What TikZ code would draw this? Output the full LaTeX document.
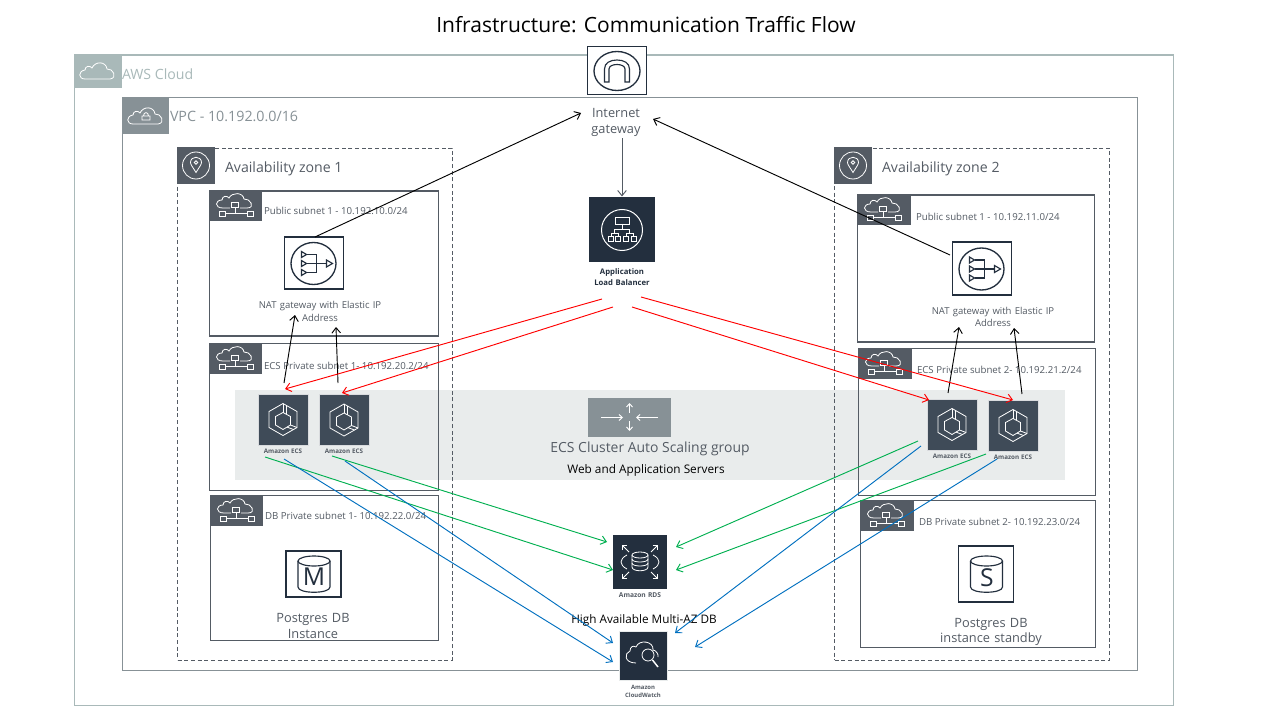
\documentclass[tikz,border=0pt]{standalone}
\usepackage{fontspec}
\setmainfont{Open Sans}
\usetikzlibrary{arrows.meta}
\definecolor{navy}{HTML}{232F3E}
\definecolor{slate}{HTML}{545B64}
\definecolor{midgray}{HTML}{879196}
\definecolor{cloudgray}{HTML}{A9B9B9}
\definecolor{ecsfill}{HTML}{3F4B58}
\definecolor{bandfill}{HTML}{E9ECEC}
\definecolor{arrred}{HTML}{FF0000}
\definecolor{arrgreen}{HTML}{00B050}
\definecolor{arrblue}{HTML}{0070C0}
\newcommand{\fs}[1]{\fontsize{#1}{#1}\selectfont}
\tikzset{
 x=0.75pt,y=-0.75pt,
 every node/.style={inner sep=0pt,outer sep=0pt},
 frame/.style={draw=slate,line width=0.8pt,rectangle,anchor=north west},
 zone/.style={draw=slate,dashed,dash pattern=on 3pt off 2pt,line width=0.7pt,rectangle,anchor=north west},
 head/.style={fill=slate,rectangle,anchor=north west},
 iconbox/.style={draw=navy,fill=white,line width=0.8pt,rectangle},
 darkbox/.style={fill=navy,rectangle},
 ecsbox/.style={fill=ecsfill,draw=ecsfill!20!white,line width=0.3pt,rectangle,minimum width=37.5pt,minimum height=38pt},
 subtxt/.style={text=slate,anchor=west,font=\fs{7.25}},
 big/.style={text=slate,align=center,font=\fs{9.6},text width=120pt},
 mini/.style={text=slate,align=center,font=\bfseries\fs{4.7},text width=60pt},
 wline/.style={draw=white,line width=0.6pt},
 nline/.style={draw=navy,line width=0.85pt},
 flow/.style={line width=0.7pt,-{Straight Barb[length=4pt,width=6.5pt]}},
 blk/.style={flow,draw=black},
 rd/.style={flow,draw=arrred},
 gn/.style={flow,draw=arrgreen},
 bl/.style={flow,draw=arrblue},
 pics/cloudout/.style={code={
  \draw[wline] (-13,8) .. controls (-20,8) and (-20,0) .. (-13,-1) .. controls (-13,-5) and (-8,-6) .. (-6,-3) .. controls (-3,-10) and (8,-10) .. (9,-2) .. controls (15,-3) and (20,7) .. (12,8) -- cycle;
 }},
 pics/subneticon/.style={code={
  \draw[wline] (-5,3) -- (-12,3) .. controls (-21,3) and (-20,-5) .. (-13,-5) .. controls (-13,-9) and (-8,-10) .. (-6,-7) .. controls (-3,-13) and (8,-13) .. (9,-6) .. controls (15,-7) and (21,3) .. (12,3) -- (5,3);
  \draw[wline] (-3.5,-3) rectangle (3.5,2);
  \draw[wline] (0,2) -- (0,8.5);
  \draw[wline] (-10,8.5) -- (12,8.5);
  \draw[wline] (-16,6) rectangle (-10,11);
  \draw[wline] (12,6) rectangle (18,11);
 }},
 pics/naticon/.style={code={
  \draw[nline,line width=1pt] (0,0) ellipse [x radius=22.5,y radius=21];
  \foreach \y in {-9,0,9}{
   \draw[nline] (-12,\y-3) -- (-7,\y) -- (-12,\y+3) -- cycle;
   \draw[nline] (-7,\y) -- (3,\y);
  }
  \draw[nline] (3,-9) -- (3,9);
  \draw[nline] (3,0) -- (13,0);
  \draw[nline] (13,-3.5) -- (19,0) -- (13,3.5) -- cycle;
 }},
 pics/ecsicon/.style={code={
  \draw[wline] (0,-16) -- (14,-8) -- (14,8) -- (0,16) -- (-14,8) -- (-14,-8) -- cycle;
  \draw[wline] (0,-7) -- (7.5,-3) -- (7.5,5.5) -- (0,10) -- (-7.5,5.5) -- (-7.5,-3) -- cycle;
  \draw[wline] (0,-16) -- (0,-7) (3,-14.3) -- (3,-5.4);
  \draw[wline] (7.5,5.5) -- (14,8) (4,7.6) -- (10.5,10);
 }},
 pics/cyl/.style={code={
  \draw[nline] (-16,-13) -- (-16,13) .. controls (-16,20) and (16,20) .. (16,13) -- (16,-13);
  \draw[nline] (0,-13) ellipse [x radius=16,y radius=5];
 }},
 pics/pinicon/.style={code={
  \draw[wline] (0,0) circle (13.5);
  \draw[wline] (0,7) .. controls (-3,2) and (-5.5,-1) .. (-5.5,-3) .. controls (-5.5,-10) and (5.5,-10) .. (5.5,-3) .. controls (5.5,-1) and (3,2) .. (0,7) -- cycle;
  \draw[wline] (0,-3) circle (1.7);
 }},
}
\begin{document}
\begin{tikzpicture}
\useasboundingbox (0,0) rectangle (1280,720);
\fill[white] (0,0) rectangle (1280,720);
% band
\fill[bandfill] (235,390) rectangle (1065,480);
% containers
\node[frame,draw=cloudgray,minimum width=824pt,minimum height=488pt] (aws) at (74.5,55) {};
\node[head,fill=cloudgray,minimum width=36pt,minimum height=25pt] (awsh) at (74,55) {};
\pic at (98,71) {cloudout};
\node[text=cloudgray,anchor=west,font=\fs{10.6}] (awst) at (122,74) {AWS Cloud};
\node[frame,draw=midgray,minimum width=761.5pt,minimum height=429.5pt] (vpc) at (122.5,97.5) {};
\node[head,fill=midgray,minimum width=35pt,minimum height=27.5pt] (vpch) at (122,97) {};
\pic at (146,116) {cloudout};
\draw[wline] (142,116) rectangle (150,120) (143.5,116) .. controls (143.5,111.5) and (148.5,111.5) .. (148.5,116);
\node[text=midgray,anchor=west,font=\fs{10.7}] (vpct) at (170,116.5) {VPC - 10.192.0.0/16};
% AZ 1
\node[zone,minimum width=206pt,minimum height=384pt] (az1) at (177.5,148) {};
\node[head,minimum width=28.5pt,minimum height=27.5pt] (az1h) at (177,147) {};
\pic at (196,165.5) {pinicon};
\node[text=slate,anchor=west,font=\fs{10.6}] (az1t) at (225,168.5) {Availability zone 1};
\node[frame,minimum width=171.75pt,minimum height=108.75pt] (pub1) at (209.5,191) {};
\node[head,minimum width=39.75pt,minimum height=22.5pt] (pub1h) at (209,191) {};
\pic at (235,205) {subneticon};
\node[subtxt] (pub1t) at (264,211) {Public subnet 1 - 10.192.10.0/24};
\node[frame,minimum width=171.75pt,minimum height=110pt] (ecs1s) at (209.5,343.5) {};
\node[head,minimum width=39.75pt,minimum height=23pt] (ecs1h) at (209,343) {};
\pic at (235,358) {subneticon};
\node[subtxt] (ecs1t) at (264,365.5) {ECS Private subnet 1- 10.192.20.2/24};
\node[frame,minimum width=171pt,minimum height=109pt] (db1s) at (210.5,495.5) {};
\node[head,minimum width=39.75pt,minimum height=23pt] (db1h) at (210,495) {};
\pic at (236,510) {subneticon};
\node[subtxt] (db1t) at (265,516) {DB Private subnet 1- 10.192.22.0/24};
% AZ 2
\node[zone,minimum width=206.25pt,minimum height=384pt] (az2) at (834.5,148) {};
\node[head,minimum width=28.5pt,minimum height=27.5pt] (az2h) at (834,147) {};
\pic at (853,165.5) {pinicon};
\node[text=slate,anchor=west,font=\fs{10.6}] (az2t) at (882,168.5) {Availability zone 2};
\node[frame,minimum width=177.75pt,minimum height=110.25pt] (pub2) at (857.5,195) {};
\node[head,minimum width=40.5pt,minimum height=22.5pt] (pub2h) at (857,195) {};
\pic at (883,209) {subneticon};
\node[subtxt] (pub2t) at (916,216.5) {Public subnet 1 - 10.192.11.0/24};
\node[frame,minimum width=177.75pt,minimum height=110.25pt] (ecs2s) at (858.5,348.5) {};
\node[head,minimum width=40.5pt,minimum height=23pt] (ecs2h) at (858,348) {};
\pic at (884,363) {subneticon};
\node[subtxt] (ecs2t) at (917,370) {ECS Private subnet 2- 10.192.21.2/24};
\node[frame,minimum width=176.25pt,minimum height=110pt] (db2s) at (860.5,500.5) {};
\node[head,minimum width=40.5pt,minimum height=23pt] (db2h) at (860,500) {};
\pic at (886,515) {subneticon};
\node[subtxt] (db2t) at (919,522) {DB Private subnet 2- 10.192.23.0/24};
% IGW
\node[iconbox,minimum width=44.5pt,minimum height=36.5pt] (igw) at (617,70.5) {};
\draw[nline,line width=1pt] (617,71) ellipse [x radius=23,y radius=19.5];
\draw[nline] (604.5,82) -- (604.5,69) .. controls (604.5,63) and (610,60) .. (617,60) .. controls (624,60) and (629.5,63) .. (629.5,69) -- (629.5,82) -- (625,82) -- (625,69) .. controls (625,66) and (621,64.5) .. (617,64.5) .. controls (613,64.5) and (609,66) .. (609,69) -- (609,82) -- cycle;
\node[big] (igwt) at (616,122.5) {Internet\\[3pt]gateway};
% ALB
\node[darkbox,minimum width=49.5pt,minimum height=48.75pt] (alb) at (622,229.5) {};
\draw[wline,line width=0.75pt] (622,230) circle (20.5);
\draw[wline] (615,217) rectangle (629,224);
\draw[wline] (622,224) -- (622,229) (614.5,233) -- (614.5,229) -- (629.5,229) -- (629.5,233);
\draw[wline] (611,236) -- (611,233) -- (618,233) -- (618,236) (626,236) -- (626,233) -- (633.5,233) -- (633.5,236);
\foreach \x in {611,618,626,633.5}{\draw[wline] (\x-2.5,236) rectangle (\x+2.5,241);}
\node[mini,text=navy,font=\bfseries\fs{5.8}] (albt) at (622,277) {Application\\[2pt]Load Balancer};
% NAT
\node[iconbox,minimum width=44.5pt,minimum height=39pt] (nata) at (314,263) {};
\pic at (313.5,263.5) {naticon};
\node[text=slate,align=center,font=\fs{7.15},text width=170pt] (natat) at (320,311.5) {NAT gateway with Elastic IP\\[2pt]Address};
\node[iconbox,minimum width=44.5pt,minimum height=39.75pt] (natb) at (982,268.5) {};
\pic at (981.5,269) {naticon};
\node[text=slate,align=center,font=\fs{7.15},text width=170pt] (natbt) at (993,317) {NAT gateway with Elastic IP\\[2pt]Address};
% ASG
\node[rectangle,fill=midgray,minimum width=62.25pt,minimum height=29.25pt] (asg) at (629.5,417.5) {};
\draw[wline,line width=0.7pt,-{Straight Barb[length=2.5pt,width=4.5pt]}] (601,417.5) -- (623,417.5);
\draw[wline,line width=0.7pt,-{Straight Barb[length=2.5pt,width=4.5pt]}] (658,417.5) -- (636,417.5);
\draw[wline,line width=0.7pt,-{Straight Barb[length=2.5pt,width=4.5pt]}] (629.5,413) -- (629.5,403);
\draw[wline,line width=0.7pt,-{Straight Barb[length=2.5pt,width=4.5pt]}] (629.5,421) -- (629.5,431);
\node[text=slate,font=\fs{10.45}] (asgt) at (650,448.5) {ECS Cluster Auto Scaling group};
\node[text=black,font=\fs{8.85}] (webt) at (646,470.5) {Web and Application Servers};
% ECS
\foreach \n/\x/\y in {ecsa/283/419.5,ecsb/344/420,ecsc/952/424.5,ecsd/1013/425.5}{
 \node[ecsbox] (\n) at (\x,\y) {};
 \pic at (\x,\y) {ecsicon};
 \node[mini] (\n t) at (\x,\y+31.5) {Amazon ECS};
}
% DB
\node[iconbox,minimum width=41.25pt,minimum height=34.5pt] (dbm) at (313.5,574) {};
\pic at (314,574) {cyl};
\node[text=navy,font=\fs{18.5}] (dbml) at (314,577) {M};
\node[big] (dbmt) at (313,626) {Postgres DB\\[2pt]Instance};
\node[iconbox,minimum width=41.25pt,minimum height=42pt] (dbs) at (986,574) {};
\pic at (986.5,574) {cyl};
\node[text=navy,font=\fs{18.5}] (dbsl) at (987,578) {S};
\node[big] (dbst) at (991,632) {Postgres DB\\[2pt]instance standby};
% RDS
\node[darkbox,minimum width=40.5pt,minimum height=40.5pt] (rds) at (640,562) {};
\draw[wline] (632,555) -- (632,567) .. controls (632,572) and (648,572) .. (648,567) -- (648,555);
\draw[wline] (640,555) ellipse [x radius=8,y radius=3];
\draw[wline] (632,559) .. controls (632,563) and (648,563) .. (648,559);
\draw[wline] (632,563) .. controls (632,567) and (648,567) .. (648,563);
\draw[wline] (627,555) .. controls (619,559) and (619,565) .. (627,569);
\draw[wline] (653,555) .. controls (661,559) and (661,565) .. (653,569);
\foreach \a/\b/\c/\d in {629/552/622/545,651/552/658/545,629/572/622/579,651/572/658/579}{
 \draw[wline,-{Straight Barb[length=2.5pt,width=5pt]}] (\a,\b) -- (\c,\d);
}
\node[mini,font=\bfseries\fs{5}] (rdst) at (640,595) {Amazon RDS};
\node[text=black,font=\fs{8.8}] (hat) at (644,620.5) {High Available Multi-AZ DB};
% CloudWatch
\node[darkbox,draw=bandfill,line width=0.4pt,minimum width=36pt,minimum height=36.5pt] (cw) at (643,656) {};
\draw[wline] (636,663) .. controls (624,663) and (624,653) .. (630,651) .. controls (630,647) and (633,645) .. (636,647) .. controls (639,639) and (654,641) .. (653,650) .. controls (656,650) and (659,655) .. (658,657);
\draw[wline] (648,655) circle (6);
\draw[wline,line width=1.1pt] (652.5,660) -- (658,667);
\node[mini,font=\bfseries\fs{4.45}] (cwt) at (643,691.5) {Amazon\\[2pt]CloudWatch};
% title
\node[text=black,font=\fs{15.75}] (title) at (646,25) {Infrastructure: Communication Traffic Flow};
% black
\draw[blk] ([shift={(1,-26)}]nata.center) -- ([shift={(-35,-9.5)}]igwt.center);
\draw[blk] ([shift={(-32,-13.5)}]natb.center) -- ([shift={(37,-3.5)}]igwt.center);
\draw[flow,draw=slate] ([shift={(6,16)}]igwt.center) -- ([shift={(0,-33)}]alb.center);
\draw[blk] ([shift={(1,-36.5)}]ecsa.center) -- ([shift={(-19,52)}]nata.center);
\draw[blk] ([shift={(-6,-37)}]ecsb.center) -- ([shift={(22,64)}]nata.center);
\draw[blk] ([shift={(-4,-31.5)}]ecsc.center) -- ([shift={(-23,58.5)}]natb.center);
\draw[blk] ([shift={(9,-31.5)}]ecsd.center) -- ([shift={(32,59.5)}]natb.center);
% red
\draw[rd] ([shift={(-20,69.5)}]alb.center) -- ([shift={(2,-30.5)}]ecsa.center);
\draw[rd] ([shift={(-9,77.5)}]alb.center) -- ([shift={(-2,-27)}]ecsb.center);
\draw[rd] ([shift={(10,77.5)}]alb.center) -- ([shift={(-23,-24.5)}]ecsc.center);
\draw[rd] ([shift={(19,67.5)}]alb.center) -- ([shift={(0,-25.5)}]ecsd.center);
% green
\draw[gn] ([shift={(-18,37.5)}]ecsa.center) -- ([shift={(-27,8)}]rds.center);
\draw[gn] ([shift={(-12,36)}]ecsb.center) -- ([shift={(-33,-20)}]rds.center);
\draw[gn] ([shift={(-34,16.5)}]ecsc.center) -- ([shift={(36,-15)}]rds.center);
\draw[gn] ([shift={(-27,28.5)}]ecsd.center) -- ([shift={(36,8)}]rds.center);
% blue
\draw[bl] ([shift={(1,39.5)}]ecsa.center) -- ([shift={(-30,6)}]cw.center);
\draw[bl] ([shift={(1,41)}]ecsb.center) -- ([shift={(-30,-13)}]cw.center);
\draw[bl] ([shift={(-31,21.5)}]ecsc.center) -- ([shift={(32,-23)}]cw.center);
\draw[bl] ([shift={(-16,33.5)}]ecsd.center) -- ([shift={(52,-9)}]cw.center);
\end{tikzpicture}
\end{document}
